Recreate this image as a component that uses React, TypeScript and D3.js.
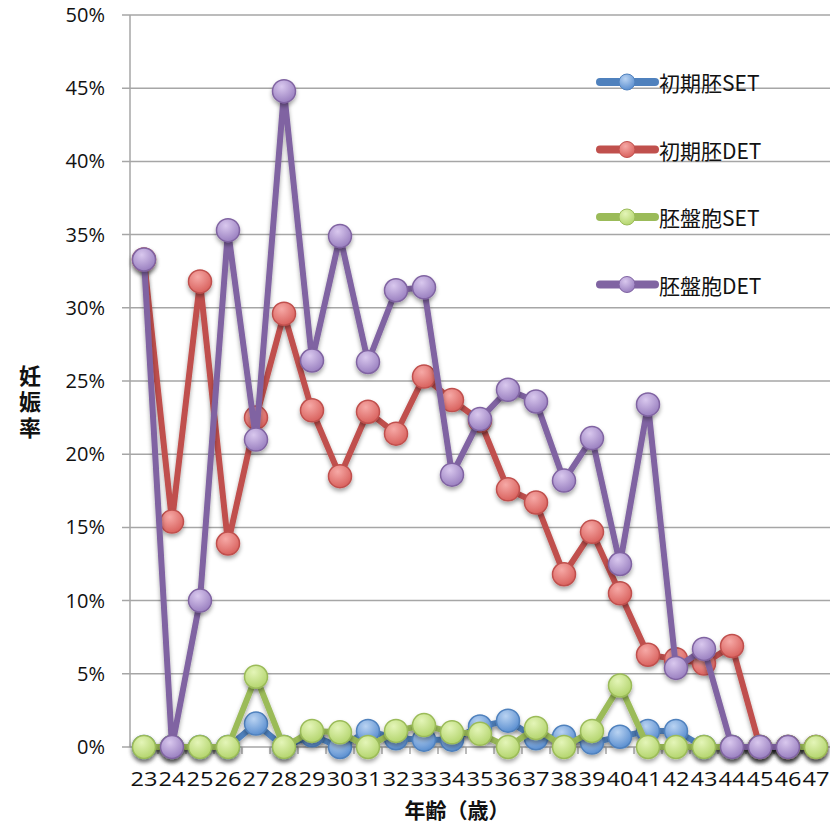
import * as d3 from "d3";
import { useRef, useEffect } from "react";

// 年齢カテゴリ
const ages = ["23","24","25","26","27","28","29","30","31","32","33","34","35","36","37","38","39","40","41","42","43","44","45","46","47"];

// 各系列の妊娠率(%)
const earlySET = [0, 0, 0, 0, 1.6, 0, 0.8, 0, 1.1, 0.6, 0.5, 0.5, 1.4, 1.8, 0.6, 0.7, 0.3, 0.7, 1.1, 1.1, 0, 0, 0, 0, 0];
const earlyDET = [33.3, 15.4, 31.8, 13.9, 22.5, 29.6, 23.0, 18.5, 22.9, 21.4, 25.3, 23.7, 22.3, 17.6, 16.7, 11.8, 14.7, 10.5, 6.3, 6.0, 5.7, 6.9, 0, 0, 0];
const blastSET = [0, 0, 0, 0, 4.8, 0, 1.1, 1.0, 0, 1.1, 1.5, 1.0, 0.9, 0, 1.3, 0, 1.1, 4.2, 0, 0, 0, 0, 0, 0, 0];
const blastDET = [33.3, 0, 10.0, 35.3, 21.0, 44.8, 26.4, 34.9, 26.3, 31.2, 31.4, 18.6, 22.4, 24.4, 23.6, 18.2, 21.1, 12.5, 23.4, 5.4, 6.7, 0, 0, 0];

const yTicks = [0, 5, 10, 15, 20, 25, 30, 35, 40, 45, 50];

const seriesList = [
    { name: "初期胚SET", values: earlySET, line: "#4F81BD", light: "#B9D3F2", dark: "#5B8FD0" },
    { name: "初期胚DET", values: earlyDET, line: "#C0504D", light: "#F6A9A6", dark: "#D9625E" },
    { name: "胚盤胞SET", values: blastSET, line: "#9BBB59", light: "#E4F5B8", dark: "#B4D56E" },
    { name: "胚盤胞DET", values: blastDET, line: "#8064A2", light: "#D9C8EE", dark: "#9A80C0" },
];

const App = () => {
    const chartRef = useRef(null);
    const width = 830;
    const height = 823;
    const margin = { top: 15, bottom: 76, left: 130, right: 0 };

    useEffect(() => {
        const svg = d3.select(chartRef.current);
        svg.selectAll("*").remove();

        const x = d3.scaleBand().domain(ages).range([margin.left, width - margin.right]);
        const y = d3.scaleLinear().domain([0, 50]).range([height - margin.bottom, margin.top]);
        const cx = (i) => x(ages[i]) + x.bandwidth() / 2;

        // グラデーション
        const defs = svg.append("defs");
        seriesList.forEach((s, k) => {
            const g = defs.append("radialGradient").attr("id", "grad" + k)
                .attr("cx", "40%").attr("cy", "30%").attr("r", "70%");
            g.append("stop").attr("offset", "0%").attr("stop-color", s.light);
            g.append("stop").attr("offset", "100%").attr("stop-color", s.dark);
        });
        const f = defs.append("filter").attr("id", "shadow").attr("x", "-50%").attr("y", "-50%").attr("width", "200%").attr("height", "200%");
        f.append("feDropShadow").attr("dx", 0).attr("dy", 3).attr("stdDeviation", 2).attr("flood-color", "#000").attr("flood-opacity", 0.35);

        // グリッド線
        svg.append("g").selectAll("line").data(yTicks).enter().append("line")
            .attr("x1", margin.left - 8).attr("x2", width)
            .attr("y1", d => y(d)).attr("y2", d => y(d))
            .style("stroke", "#A6A6A6").style("stroke-width", 1.5);

        // Y軸
        svg.append("line")
            .attr("x1", margin.left).attr("x2", margin.left)
            .attr("y1", y(50)).attr("y2", y(0))
            .style("stroke", "#A6A6A6").style("stroke-width", 1.5);
        svg.append("g").selectAll("text").data(yTicks).enter().append("text")
            .attr("x", 105).attr("y", d => y(d) + 7)
            .attr("text-anchor", "end")
            .style("font-family", "'Open Sans', 'Noto Sans', sans-serif")
            .style("font-size", "20px")
            .style("fill", "#111")
            .text(d => d + "%");

        // X軸の目盛り
        svg.append("g").selectAll("line").data(ages.slice(1)).enter().append("line")
            .attr("x1", d => x(d)).attr("x2", d => x(d))
            .attr("y1", y(0)).attr("y2", y(0) + 7)
            .style("stroke", "#A6A6A6").style("stroke-width", 1.5);
        svg.append("g").selectAll("text").data(ages).enter().append("text")
            .attr("x", d => x(d) + x.bandwidth() / 2)
            .attr("y", 786)
            .attr("text-anchor", "middle")
            .attr("textLength", x.bandwidth() - 1)
            .attr("lengthAdjust", "spacingAndGlyphs")
            .style("font-family", "'Open Sans', 'Noto Sans', sans-serif")
            .style("font-size", "20px")
            .style("fill", "#111")
            .text(d => d);

        // 系列
        const line = d3.line().x(d => cx(d[0])).y(d => y(d[1]));
        seriesList.forEach((s, k) => {
            const pts = s.values.map((v, i) => [i, v]);
            const g = svg.append("g");
            g.append("path").datum(pts)
                .attr("d", line)
                .style("fill", "none")
                .style("stroke", s.line)
                .style("stroke-width", 6)
                .style("stroke-linejoin", "round")
                .attr("filter", "url(#shadow)");
            g.selectAll("circle").data(pts).enter().append("circle")
                .attr("cx", d => cx(d[0])).attr("cy", d => y(d[1]))
                .attr("r", 11.5)
                .style("fill", `url(#grad${k})`)
                .style("stroke", s.line)
                .style("stroke-width", 1.5)
                .attr("filter", "url(#shadow)");
        });

        // 凡例
        const lg = svg.append("g");
        seriesList.forEach((s, k) => {
            const ly = 82 + k * 67.5;
            lg.append("line").attr("x1", 600).attr("x2", 655).attr("y1", ly).attr("y2", ly)
                .style("stroke", s.line).style("stroke-width", 8).style("stroke-linecap", "round");
            lg.append("circle").attr("cx", 627).attr("cy", ly).attr("r", 8)
                .style("fill", `url(#grad${k})`).style("stroke", s.line).style("stroke-width", 1);
            lg.append("text").attr("x", 659).attr("y", ly + 9)
                .style("font-family", "'Noto Sans CJK JP', 'Open Sans', sans-serif")
                .style("font-size", "21px")
                .style("fill", "#111")
                .text(s.name);
        });

        // 軸タイトル(縦書き)
        svg.append("text")
            .attr("x", 30).attr("y", 365)
            .style("writing-mode", "vertical-rl")
            .style("text-orientation", "upright")
            .style("letter-spacing", "4px")
            .style("font-family", "'Noto Sans CJK JP', sans-serif")
            .style("font-size", "22px")
            .style("font-weight", "bold")
            .style("fill", "#111")
            .text("妊娠率");
        svg.append("text")
            .attr("x", 457).attr("y", 818)
            .attr("text-anchor", "middle")
            .style("font-family", "'Noto Sans CJK JP', sans-serif")
            .style("font-size", "21px")
            .style("font-weight", "bold")
            .style("fill", "#111")
            .text("年齢（歳）");
    }, []);

    return (
        <svg ref={chartRef} width={width} height={height} style={{ position: "absolute", left: 0, top: 0, background: "#fff" }}></svg>
    );
};

export default App;
